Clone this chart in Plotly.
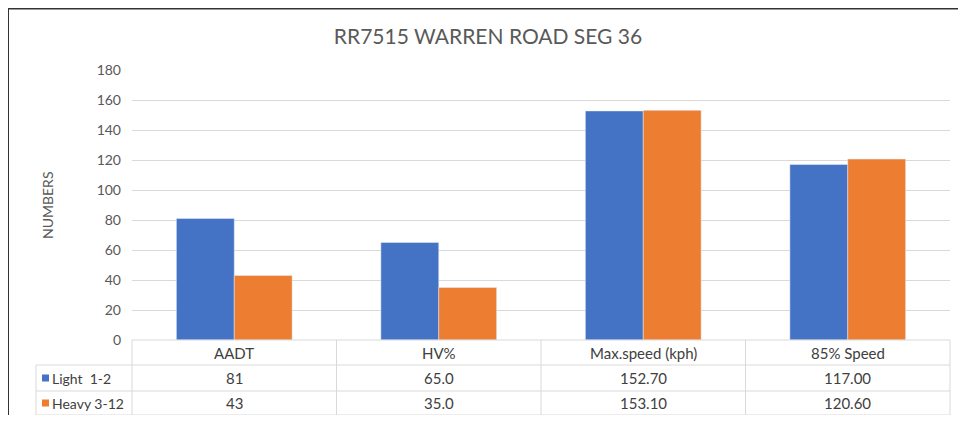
import plotly.graph_objects as go

categories = ["AADT", "HV%", "Max.speed (kph)", "85% Speed"]
light = [81, 65.0, 152.70, 117.00]
heavy = [43, 35.0, 153.10, 120.60]
decimals = [0, 1, 2, 2]
series_names = ["Light  1-2", "Heavy 3-12"]
y_ticks = list(range(0, 181, 20))

# the page puts the plot 8px in from the corner, so size and place for that
OX, OY = 8, 8
W, H = 966 - 2 * OX, 423 - 2 * OY
BLUE = "#4472C4"
ORANGE = "#ED7D31"
GRID = "#d9d9d9"
TXT = "#595959"
CELL_TXT = "#404040"
FONT = "Lato, Open Sans, sans-serif"

# table layout in page pixels
X_LEFT, X0, X1 = 36, 132, 950
ROWS = [340, 365, 391, 415]


def px(x):
    return (x - OX) / W


def py(y):
    return 1 - (y - OY) / H


fig = go.Figure()
fig.add_trace(go.Bar(x=categories, y=light, name=series_names[0], marker_color=BLUE))
fig.add_trace(go.Bar(x=categories, y=heavy, name=series_names[1], marker_color=ORANGE))

line = dict(color=GRID, width=1)
shapes = [
    # frame of the screenshot
    dict(type="line", xref="paper", yref="paper", x0=0, x1=1, y0=1, y1=1,
         line=dict(color="#333", width=3)),
    dict(type="line", xref="paper", yref="paper", x0=0, x1=0, y0=0, y1=1,
         line=dict(color="#333", width=2)),
    # data table grid
    dict(type="line", xref="paper", yref="paper", x0=px(X0), x1=px(X1),
         y0=py(ROWS[0]), y1=py(ROWS[0]), line=line),
]
for r in ROWS[1:]:
    shapes.append(dict(type="line", xref="paper", yref="paper", x0=px(X_LEFT), x1=px(X1),
                       y0=py(r), y1=py(r), line=line))
shapes.append(dict(type="line", xref="paper", yref="paper", x0=px(X_LEFT), x1=px(X_LEFT),
                   y0=py(ROWS[1]), y1=py(ROWS[-1]), line=line))
step = (X1 - X0) / len(categories)
for i in range(len(categories) + 1):
    xx = px(X0 + i * step)
    shapes.append(dict(type="line", xref="paper", yref="paper", x0=xx, x1=xx,
                       y0=py(ROWS[0]), y1=py(ROWS[-1]), line=line))

annotations = [dict(text="NUMBERS", textangle=-90, xref="paper", yref="paper",
                    x=px(47), y=py(205), xanchor="center", yanchor="middle",
                    showarrow=False, font=dict(family=FONT, size=14, color=TXT))]
cell_font = dict(family=FONT, size=15, color=CELL_TXT)
label_font = dict(family=FONT, size=14, color=CELL_TXT)
hdr_y = py((ROWS[0] + ROWS[1]) / 2)
for c in categories:
    annotations.append(dict(text=c, x=c, xref="x", y=hdr_y, yref="paper",
                            xanchor="center", yanchor="middle",
                            showarrow=False, font=cell_font))
for k, (name, vals, col) in enumerate(zip(series_names, [light, heavy], [BLUE, ORANGE])):
    yc = py((ROWS[k + 1] + ROWS[k + 2]) / 2)
    annotations.append(dict(text=name.replace(" ", "\u00a0"), x=px(50), xref="paper",
                            xanchor="left", y=yc, yref="paper", yanchor="middle",
                            showarrow=False, font=label_font))
    shapes.append(dict(type="rect", xref="paper", yref="paper", x0=px(42), x1=px(49),
                       y0=yc - 3.5 / H, y1=yc + 3.5 / H, fillcolor=col, line_width=0))
    for c, v, d in zip(categories, vals, decimals):
        annotations.append(dict(text=f"{v:.{d}f}", x=c, xref="x", y=yc, yref="paper",
                                xanchor="center", yanchor="middle",
                                showarrow=False, font=cell_font))

fig.update_layout(
    width=W, height=H,
    margin=dict(l=0, r=0, t=0, b=0),
    paper_bgcolor="white", plot_bgcolor="white",
    barmode="group", bargap=0.434, bargroupgap=0,
    showlegend=False,
    font=dict(family=FONT, color=TXT),
    title=dict(text="RR7515 WARREN ROAD SEG 36", x=px(488), xanchor="center",
               y=py(37), yanchor="middle",
               font=dict(family=FONT, size=21, color=TXT)),
    xaxis=dict(domain=[px(X0), px(X1)], showticklabels=False, showgrid=False,
               zeroline=False, showline=False, automargin=False),
    yaxis=dict(domain=[py(340), py(70)], range=[0, 180], tickvals=y_ticks,
               gridcolor=GRID, gridwidth=1, zeroline=False, showline=False,
               automargin=False, ticklabelstandoff=10,
               tickfont=dict(family=FONT, size=14, color=TXT)),
    annotations=annotations,
    shapes=shapes,
)

fig.write_html("out.html")
